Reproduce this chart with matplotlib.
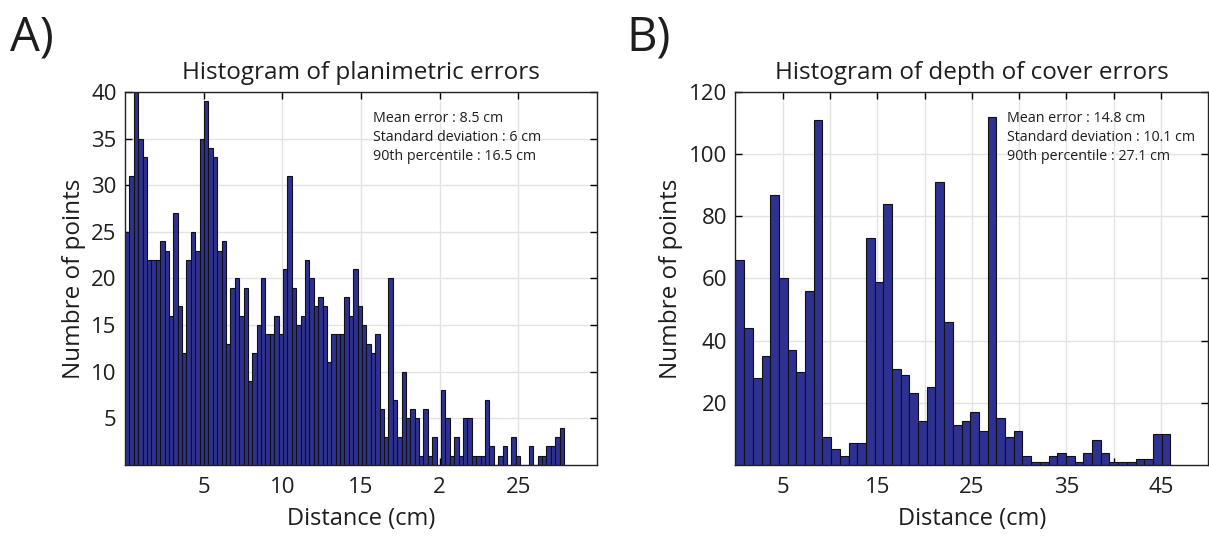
import numpy as np
import matplotlib
matplotlib.use("Agg")
import matplotlib.pyplot as plt

plt.rcParams['font.family'] = ['Open Sans', 'DejaVu Sans']

# 左图: 平面误差直方图 (100 个区间, 0 ~ 27.9 cm)
plan_range = (0.0, 27.9)
plan_counts = [25, 31, 40, 35, 33, 22, 22, 22, 24, 23,
               16, 27, 17, 12, 22, 25, 23, 35, 39, 34,
               33, 23, 24, 13, 19, 20, 16, 19, 9, 12,
               15, 20, 14, 14, 16, 14, 21, 31, 19, 15,
               16, 22, 20, 17, 18, 17, 11, 14, 14, 14,
               18, 16, 21, 17, 15, 13, 12, 14, 6, 3,
               20, 7, 3, 10, 5, 6, 5, 1, 6, 1,
               3, 0, 8, 5, 1, 3, 1, 5, 5, 1,
               1, 1, 7, 2, 0, 1, 2, 0, 3, 1,
               0, 0, 2, 0, 1, 1, 2, 2, 3, 4]
plan_xticks = [5, 10, 15, 20, 25]
plan_xlabels = ['5', '10', '15', '2', '25']
plan_yticks = [5, 10, 15, 20, 25, 30, 35, 40]
plan_stats = ['Mean error : 8.5 cm', 'Standard deviation : 6 cm',
              '90th percentile : 16.5 cm']

# 右图: 覆土深度误差直方图 (50 个区间, 0 ~ 46 cm)
depth_range = (0.0, 46.0)
depth_counts = [66, 44, 28, 35, 87, 60, 37, 30, 56, 111,
                9, 5, 3, 7, 7, 73, 59, 84, 31, 29,
                23, 14, 25, 91, 46, 13, 14, 17, 11, 112,
                15, 9, 11, 3, 1, 1, 3, 4, 3, 1,
                4, 8, 4, 1, 1, 1, 2, 2, 10, 10]
depth_xticks = [5, 10, 15, 20, 25, 30, 35, 40, 45]
depth_xlabels = ['5', '', '15', '', '25', '', '35', '', '45']
depth_yticks = [20, 40, 60, 80, 100, 120]
depth_stats = ['Mean error : 14.8 cm', 'Standard deviation : 10.1 cm',
               '90th percentile : 27.1 cm']

bar_color = '#2e3192'
text_color = '#1e1e1e'


def draw_hist(ax, counts, xrange_, xlim, ylim, xticks, xlabels, yticks, title, stats, stats_x):
    edges = np.linspace(xrange_[0], xrange_[1], len(counts) + 1)
    w = edges[1] - edges[0]
    ax.bar(edges[:-1], counts, width=w, align='edge', color=bar_color,
           edgecolor='#111111', linewidth=0.8, zorder=2)
    ax.set_xlim(*xlim)
    ax.set_ylim(*ylim)
    ax.set_xticks(xticks)
    ax.set_xticklabels(xlabels)
    ax.set_yticks(yticks)
    ax.grid(True, color='#e3e3e3', linewidth=1.0, zorder=0)
    ax.set_axisbelow(True)
    ax.tick_params(direction='in', top=True, right=True, length=5, width=1,
                   labelsize=16, labelcolor=text_color)
    ax.tick_params(axis='x', pad=9)
    ax.tick_params(axis='y', pad=6)
    for s in ax.spines.values():
        s.set_linewidth(1.0)
        s.set_color('#222222')
    ax.set_title(title, fontsize=17.5, pad=9, color=text_color)
    ax.set_xlabel('Distance (cm)', fontsize=17, labelpad=6, color=text_color)
    ax.set_ylabel('Numbre of points', fontsize=17.5, labelpad=4, color=text_color)
    for i, s in enumerate(stats):
        ax.text(stats_x, 0.93 - i * 0.052, s, transform=ax.transAxes,
                fontsize=10.3, ha='left', va='center', color=text_color)


fig = plt.figure(figsize=(12.09, 5.36), dpi=100)
ax1 = fig.add_axes([0.1034, 0.1325, 0.3904, 0.6959])
ax2 = fig.add_axes([0.6083, 0.1325, 0.3910, 0.6959])

draw_hist(ax1, plan_counts, plan_range, (0, 30), (0, 40), plan_xticks, plan_xlabels,
          plan_yticks, 'Histogram of planimetric errors', plan_stats, 0.525)
draw_hist(ax2, depth_counts, depth_range, (0, 50), (0, 120), depth_xticks, depth_xlabels,
          depth_yticks, 'Histogram of depth of cover errors', depth_stats, 0.575)

fig.text(0.008, 0.93, 'A)', fontsize=34, ha='left', va='center', color=text_color)
fig.text(0.518, 0.93, 'B)', fontsize=34, ha='left', va='center', color=text_color)

fig.savefig('out.png', dpi=100)
